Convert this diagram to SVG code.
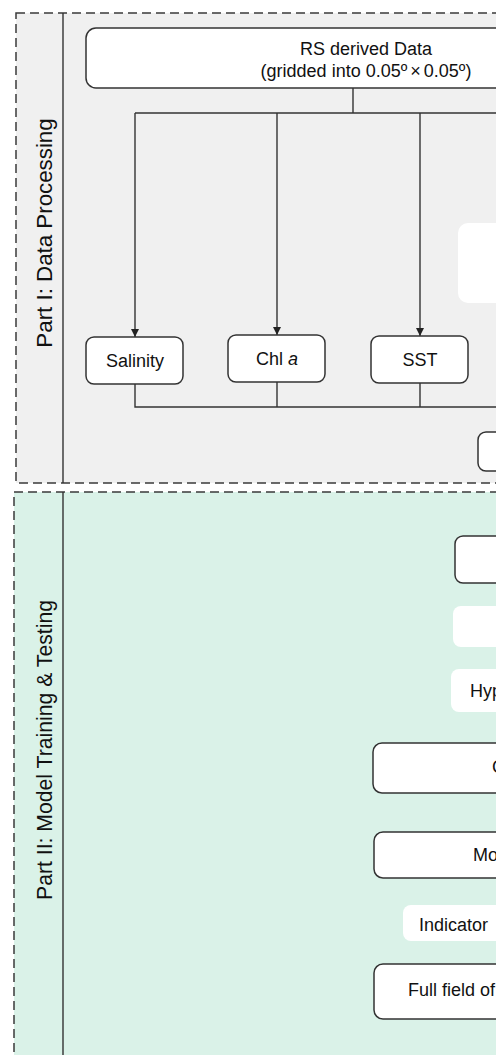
<svg xmlns="http://www.w3.org/2000/svg" width="496" height="1055" viewBox="0 0 496 1055">
<style>
.panel{stroke:#3a3a3a;stroke-width:1.5;stroke-dasharray:9 5}
.div{stroke:#333;stroke-width:1.4;fill:none}
.box{fill:#fff;stroke:#333;stroke-width:1.5}
.soft{fill:#fff;stroke:none}
.t{font-family:"Liberation Sans",Arial,sans-serif;font-size:18px;fill:#111}
.lbl{font-family:"Liberation Sans",Arial,sans-serif;fill:#111}
.c{stroke:#333;stroke-width:1.4;fill:none}
</style>
<defs>
<marker id="ah" markerWidth="10" markerHeight="10" refX="8" refY="5" orient="auto" markerUnits="userSpaceOnUse">
<path d="M0,1 L8,5 L0,9 Z" fill="#222"/>
</marker>
</defs>
<g id="part1">
<rect class="panel" x="16" y="13" width="520" height="470" fill="#f0f0f0"/>
<line class="div" x1="63" y1="13" x2="63" y2="483"/>
<text class="lbl" font-size="22.3" x="52" y="233" text-anchor="middle" transform="rotate(-90 52 233)">Part I: Data Processing</text>
</g>
<g id="part2">
<rect class="panel" x="14" y="492" width="520" height="600" fill="#daf2e8"/>
<line class="div" x1="63" y1="492" x2="63" y2="1060"/>
<text class="lbl" font-size="21.2" x="52" y="750" text-anchor="middle" transform="rotate(-90 52 750)">Part II: Model Training &amp; Testing</text>
</g>
<g id="connectors">
<path class="c" d="M353,88 V113"/>
<path class="c" d="M135,113 H500"/>
<path class="c" d="M135,113 V337" marker-end="url(#ah)"/>
<path class="c" d="M277,113 V335" marker-end="url(#ah)"/>
<path class="c" d="M420,113 V336" marker-end="url(#ah)"/>
<path class="c" d="M135,384 V407 H500"/>
<path class="c" d="M277,382 V407"/>
<path class="c" d="M420,383 V407"/>
</g>
<g id="rs-data">
<rect class="box" x="86" y="28" width="440" height="60" rx="10"/>
<text class="t" x="366" y="55" text-anchor="middle">RS derived Data</text>
<text class="t" x="366" y="77" text-anchor="middle">(gridded into 0.05º<tspan dx="3">×</tspan><tspan dx="3">0.05º)</tspan></text>
</g>
<g id="soft-box-1"><rect class="soft" x="458" y="223" width="60" height="80" rx="10"/></g>
<g id="salinity">
<rect class="box" x="86" y="337" width="97" height="47" rx="8"/>
<text class="t" x="135" y="367" text-anchor="middle">Salinity</text>
</g>
<g id="chla">
<rect class="box" x="228" y="335" width="97" height="47" rx="8"/>
<text class="t" x="277" y="365" text-anchor="middle">Chl <tspan font-style="italic">a</tspan></text>
</g>
<g id="sst">
<rect class="box" x="371" y="336" width="97" height="47" rx="8"/>
<text class="t" x="420" y="366" text-anchor="middle">SST</text>
</g>
<g id="box-p1-bottom"><rect class="box" x="478" y="432" width="60" height="39" rx="8"/></g>
<g id="box-p2-1"><rect class="box" x="455" y="536" width="80" height="47" rx="8"/></g>
<g id="soft-box-2"><rect class="soft" x="453" y="606" width="80" height="41" rx="8"/></g>
<g id="hyp">
<rect class="soft" x="451" y="669" width="80" height="43" rx="8"/>
<text class="t" x="470" y="697">Hyp</text>
</g>
<g id="c-box">
<rect class="box" x="373" y="743" width="160" height="50" rx="9"/>
<text class="t" x="492" y="773">C</text>
</g>
<g id="mo-box">
<rect class="box" x="374" y="832" width="160" height="46" rx="9"/>
<text class="t" x="473" y="861">Mo</text>
</g>
<g id="indicator">
<rect class="soft" x="403" y="905" width="120" height="36" rx="8"/>
<text class="t" x="419" y="931">Indicator</text>
</g>
<g id="full-field">
<rect class="box" x="374" y="964" width="160" height="55" rx="9"/>
<text class="t" x="408" y="996">Full field of</text>
</g>
</svg>
